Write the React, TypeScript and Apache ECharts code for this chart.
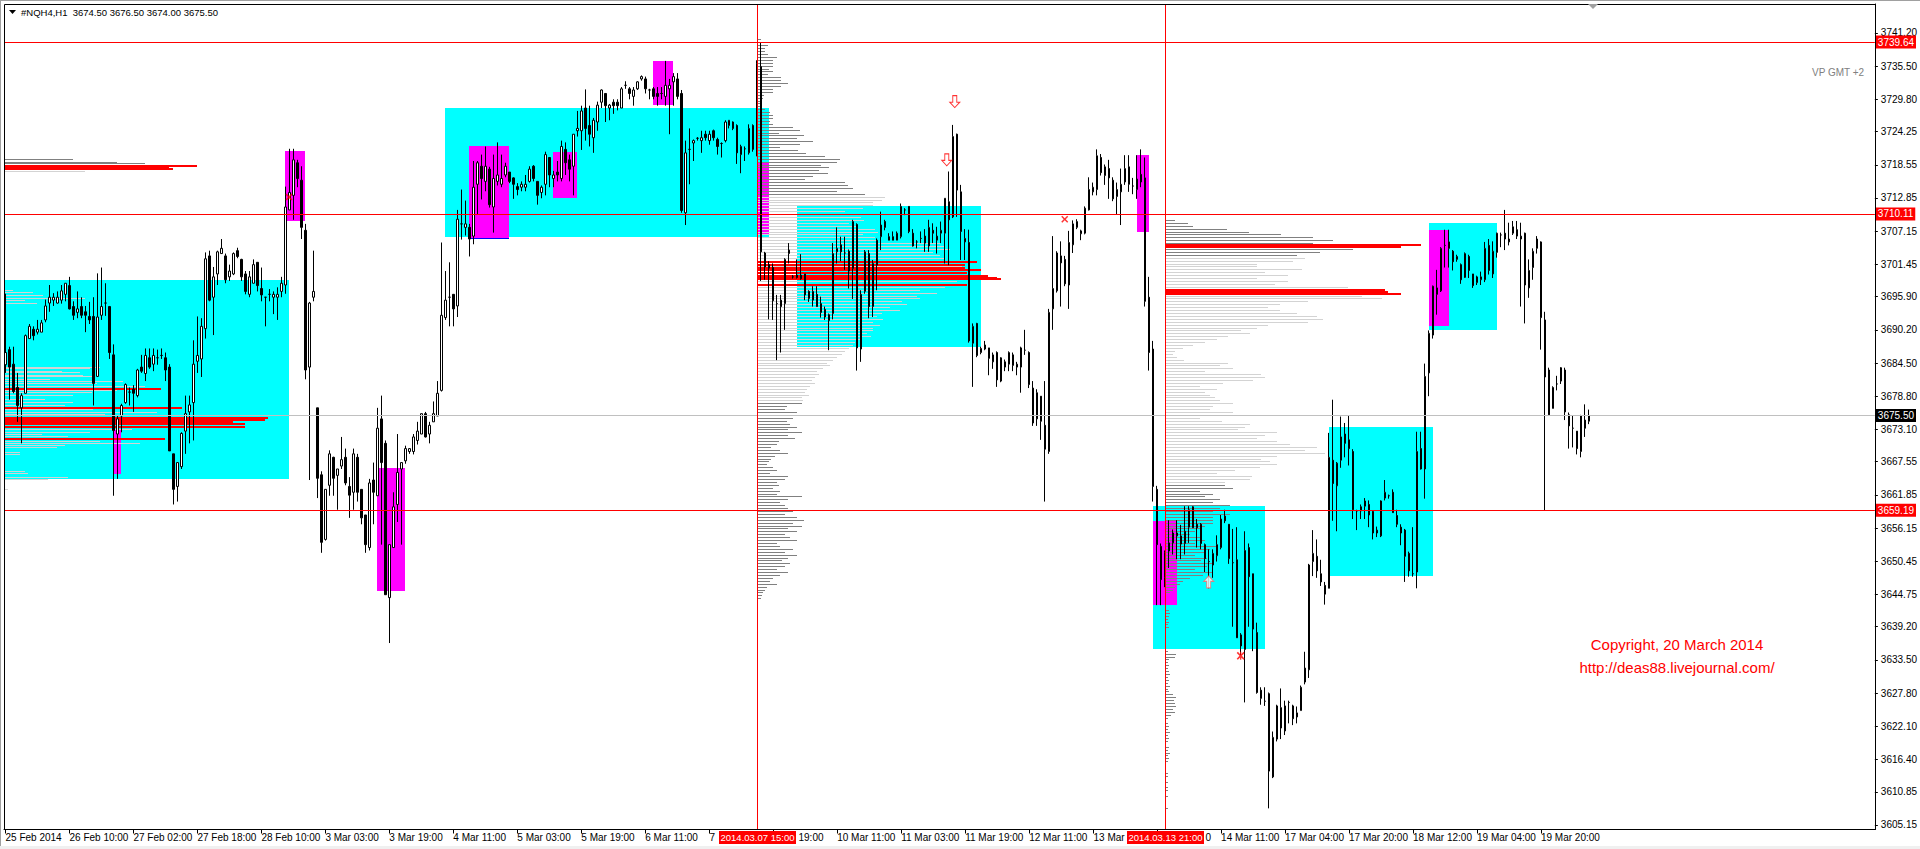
import React, { useEffect, useRef } from 'react';
import * as echarts from 'echarts';

// ---------- candles (H1 bars, index 0 = 25 Feb 18:00) ----------
const OPEN = [
3684.2,3686.8,3684.3,3680.3,3676.8,3679.3,3688.7,3690.3,3689.8,3689.8,
3691.9,3694.8,3695.3,3694.8,3695.3,3696.3,3697.8,3694.2,3693.2,3694.2,
3693.3,3692.5,3692.5,3682.2,3692.7,3694.8,3694.2,3685.9,3672.3,3675.4,
3677.7,3679.5,3680.0,3678.9,3683.8,3682.7,3685.4,3684.3,3685.4,3685.8,
3685.4,3683.8,3668.9,3663.3,3666.7,3672.8,3676.1,3677.7,3684.8,3685.2,
3690.4,3702.9,3695.8,3699.8,3703.3,3702.9,3699.3,3699.8,3703.8,3702.3,
3699.8,3696.3,3698.2,3701.8,3697.3,3695.8,3696.3,3695.8,3695.8,3696.8,
3697.9,3710.8,3713.3,3718.9,3715.9,3707.3,3683.8,3695.8,3676.8,3665.3,
3654.2,3663.5,3668.3,3665.2,3666.8,3668.3,3663.3,3662.3,3668.3,3662.8,
3658.4,3652.8,3664.4,3661.7,3674.9,3670.7,3644.2,3652.8,3660.2,3666.3,
3667.7,3669.3,3669.3,3671.2,3672.3,3675.8,3672.3,3674.4,3675.4,3679.8,
3692.3,3695.8,3696.3,3694.3,3708.4,3707.8,3707.8,3706.3,3715.2,3718.3,
3715.7,3717.8,3711.3,3715.7,3715.2,3716.8,3717.3,3716.3,3714.8,3714.7,
3714.7,3715.7,3718.3,3715.7,3713.8,3715.2,3719.8,3716.2,3717.3,3716.2,
3721.2,3719.4,3718.3,3724.4,3724.4,3728.3,3725.3,3723.2,3725.9,3729.3,
3730.8,3728.3,3729.3,3729.3,3728.3,3732.2,3731.6,3730.3,3731.6,3733.3,
3733.3,3731.4,3731.6,3730.8,3730.8,3730.3,3731.6,3732.8,3733.3,3730.8,
3710.3,3721.2,3722.3,3723.1,3722.7,3723.8,3722.7,3724.4,3722.9,3722.2,
3722.7,3725.3,3725.9,3725.3,3720.3,3721.3,3720.6,3725.3,3721.1,3735.4,
3703.4,3701.4,3700.9,3694.7,3695.3,3694.7,3703.3,3699.3,3699.6,3699.6,
3699.8,3696.8,3695.3,3696.3,3694.7,3693.7,3691.8,3693.0,3703.6,3704.8,
3703.4,3703.7,3700.7,3708.3,3686.9,3696.8,3703.3,3694.2,3701.3,3706.2,
3708.8,3706.2,3706.2,3705.6,3706.2,3710.8,3711.4,3706.8,3705.3,3705.9,
3706.3,3704.6,3707.3,3705.6,3706.8,3706.8,3712.2,3709.6,3723.8,3713.9,
3705.3,3705.2,3687.9,3691.3,3686.3,3687.6,3687.1,3684.7,3686.3,3681.4,
3684.7,3684.3,3685.9,3683.8,3683.8,3686.7,3686.3,3680.2,3674.9,3678.8,
3673.8,3669.3,3693.8,3696.9,3702.9,3702.3,3697.9,3704.8,3707.8,3706.7,
3706.8,3710.8,3713.9,3714.3,3719.8,3716.7,3717.9,3715.9,3713.1,3713.9,
3715.6,3718.2,3714.9,3714.3,3716.9,3716.3,3695.8,3686.9,3662.8,3653.0,
3647.7,3652.2,3653.6,3654.8,3654.8,3653.5,3656.3,3659.8,3656.8,3656.8,
3653.3,3650.4,3649.8,3651.4,3652.8,3658.2,3656.8,3650.2,3650.7,3637.8,
3635.3,3652.8,3648.3,3638.2,3628.3,3626.4,3627.7,3613.4,3619.9,3625.3,
3621.3,3626.2,3625.6,3623.7,3624.8,3629.7,3631.8,3650.4,3651.3,3648.3,
3646.3,3645.8,3667.8,3663.4,3667.8,3672.3,3671.3,3669.3,3659.1,3659.8,
3659.9,3660.2,3659.0,3655.3,3654.8,3661.3,3661.7,3662.3,3658.3,3656.3,
3655.8,3651.8,3648.3,3648.6,3669.8,3666.3,3682.8,3689.3,3697.4,3696.9,
3704.7,3705.3,3703.7,3702.3,3701.4,3699.2,3702.8,3699.8,3698.3,3698.8,
3698.8,3704.7,3699.8,3703.5,3706.5,3706.8,3705.3,3706.8,3707.4,3705.8,
3706.8,3697.4,3700.9,3704.2,3705.3,3691.9,3683.3,3676.7,3680.9,3681.4,
3683.3,3675.6,3673.3,3672.8,3669.3,3674.7,3674.5
];
const CLOSE = [
3686.3,3683.8,3679.6,3677.2,3678.9,3689.2,3690.8,3689.2,3690.3,3691.4,
3694.3,3695.8,3695.8,3695.8,3696.9,3698.2,3693.8,3692.7,3693.8,3692.7,
3692.7,3691.9,3681.0,3692.4,3694.2,3694.8,3686.3,3672.9,3674.9,3677.2,
3680.8,3679.5,3679.3,3683.3,3683.1,3685.8,3683.8,3685.8,3685.4,3685.8,
3683.3,3669.4,3662.8,3667.4,3672.4,3675.8,3677.3,3684.3,3685.8,3690.8,
3702.4,3695.3,3699.3,3703.6,3704.2,3698.8,3700.3,3703.3,3702.8,3699.3,
3696.8,3699.3,3701.4,3697.8,3696.2,3695.8,3696.3,3696.3,3696.3,3698.2,
3711.3,3713.8,3719.4,3716.2,3707.8,3683.3,3694.8,3696.8,3664.7,3653.7,
3662.8,3668.9,3664.7,3666.3,3667.9,3663.9,3661.8,3668.9,3662.3,3657.9,
3653.3,3663.9,3662.3,3673.3,3667.4,3644.7,3653.3,3659.8,3665.7,3667.4,
3669.8,3669.8,3671.8,3672.8,3675.8,3671.8,3673.8,3675.8,3679.3,3692.7,
3695.3,3695.8,3693.8,3709.2,3708.4,3708.4,3705.8,3714.7,3718.9,3716.2,
3718.3,3711.7,3716.2,3716.8,3716.2,3718.3,3715.7,3715.2,3714.3,3715.2,
3715.2,3717.8,3716.2,3713.3,3714.7,3720.3,3716.8,3716.8,3716.8,3721.7,
3718.9,3717.8,3723.8,3724.8,3727.8,3724.8,3723.8,3726.2,3728.8,3731.4,
3728.7,3728.8,3728.7,3728.7,3731.6,3732.2,3730.8,3731.4,3732.8,3733.7,
3731.6,3731.4,3730.3,3730.3,3730.8,3732.2,3732.2,3733.7,3730.3,3710.7,
3720.6,3721.2,3722.7,3723.1,3723.2,3723.2,3723.8,3723.2,3721.7,3722.2,
3725.9,3726.2,3724.8,3720.6,3721.7,3721.3,3724.8,3721.2,3736.0,3703.6,
3701.0,3700.8,3695.2,3694.7,3694.2,3702.3,3703.9,3699.3,3699.2,3699.0,
3696.2,3695.6,3696.8,3694.2,3693.2,3692.4,3692.8,3703.3,3704.2,3703.6,
3703.4,3700.3,3708.8,3687.1,3696.3,3703.6,3694.2,3701.6,3705.6,3708.2,
3707.8,3705.6,3705.6,3706.8,3711.4,3710.8,3707.1,3704.6,3705.3,3705.9,
3705.1,3707.8,3706.8,3706.3,3707.3,3712.8,3709.1,3723.4,3714.2,3707.1,
3705.9,3688.3,3690.8,3685.8,3687.0,3686.9,3685.3,3685.9,3681.6,3685.4,
3683.8,3686.3,3684.1,3684.3,3687.1,3686.7,3680.8,3674.2,3679.4,3674.5,
3669.7,3693.2,3697.3,3703.4,3701.7,3698.1,3705.2,3708.4,3708.8,3707.2,
3711.1,3714.3,3714.7,3720.1,3717.2,3718.2,3716.3,3712.7,3714.3,3715.2,
3717.9,3715.2,3714.9,3716.1,3715.6,3695.1,3686.3,3663.3,3653.3,3647.3,
3652.0,3653.6,3655.3,3655.3,3653.4,3655.6,3659.3,3656.2,3656.2,3653.5,
3650.9,3650.4,3651.8,3653.3,3657.7,3657.4,3650.9,3650.2,3637.3,3635.9,
3652.3,3647.8,3638.8,3627.9,3626.9,3626.4,3614.4,3620.2,3625.6,3621.8,
3625.6,3626.2,3623.4,3624.4,3628.8,3632.1,3649.8,3651.8,3648.8,3646.9,
3644.8,3668.3,3663.8,3667.3,3671.8,3670.7,3669.8,3659.3,3659.1,3659.1,
3660.8,3658.4,3655.3,3655.8,3660.8,3662.3,3661.7,3658.8,3656.8,3655.3,
3651.3,3648.8,3648.3,3669.3,3666.3,3682.2,3689.6,3697.7,3696.3,3704.2,
3704.7,3704.2,3701.9,3702.8,3698.8,3703.3,3700.4,3697.8,3699.3,3699.3,
3704.2,3700.4,3703.7,3706.8,3706.5,3705.8,3705.8,3707.9,3706.3,3706.3,
3697.9,3700.4,3703.7,3705.8,3692.3,3682.1,3675.6,3680.3,3680.9,3683.7,
3676.1,3673.7,3673.3,3669.8,3675.4,3673.3,3675.5
];
const LOW = [
3682.8,3678.2,3679.3,3674.4,3670.7,3679.3,3688.7,3688.4,3689.4,3689.8,
3691.5,3693.3,3694.3,3694.7,3694.7,3695.1,3693.7,3691.9,3692.2,3692.2,
3689.8,3691.2,3677.2,3682.1,3691.9,3692.6,3685.2,3661.7,3664.6,3672.6,
3677.5,3677.2,3676.1,3678.6,3682.8,3681.4,3683.5,3683.1,3684.2,3685.2,
3681.4,3669.4,3660.2,3660.7,3666.3,3668.9,3670.7,3671.2,3682.8,3682.1,
3688.7,3695.1,3689.3,3697.9,3703.3,3698.2,3698.6,3699.6,3702.5,3698.6,
3696.3,3695.8,3698.2,3696.8,3695.1,3690.8,3695.1,3692.9,3691.9,3695.8,
3696.4,3710.8,3709.1,3714.7,3705.8,3681.7,3664.4,3695.1,3661.3,3651.9,
3654.0,3661.7,3661.7,3659.3,3666.3,3663.5,3657.9,3659.3,3660.7,3656.8,
3651.9,3652.3,3656.8,3661.7,3653.3,3644.7,3636.4,3652.8,3657.2,3653.3,
3667.2,3668.9,3668.8,3670.5,3672.3,3671.7,3670.7,3674.4,3675.4,3679.6,
3691.9,3690.8,3690.8,3692.4,3705.7,3706.4,3702.8,3704.9,3710.1,3712.6,
3714.0,3711.2,3706.9,3715.0,3714.7,3716.4,3715.4,3712.7,3713.3,3714.0,
3714.0,3715.5,3715.7,3711.7,3712.8,3713.3,3714.7,3714.7,3715.7,3715.7,
3716.8,3715.7,3713.3,3723.4,3721.1,3722.7,3721.7,3720.6,3724.4,3728.3,
3725.9,3726.2,3727.3,3727.9,3728.3,3731.6,3729.8,3728.7,3731.4,3733.0,
3730.8,3729.8,3729.8,3728.7,3729.8,3728.7,3723.8,3728.7,3729.8,3710.3,
3708.2,3715.2,3719.2,3722.7,3720.6,3722.7,3722.0,3722.7,3720.3,3719.8,
3722.4,3724.8,3724.5,3718.7,3717.1,3719.2,3720.3,3720.8,3720.0,3698.6,
3698.8,3692.0,3691.9,3685.0,3686.3,3690.2,3701.6,3699.0,3699.0,3698.8,
3695.3,3695.0,3694.2,3694.2,3692.3,3691.9,3686.7,3692.0,3701.6,3702.0,
3700.5,3697.3,3695.5,3683.2,3684.7,3696.4,3692.2,3692.4,3697.0,3703.9,
3707.3,3705.6,3705.9,3705.9,3705.9,3709.9,3706.8,3704.5,3704.2,3705.1,
3703.6,3703.6,3705.1,3703.3,3705.1,3701.6,3701.3,3709.4,3709.6,3702.2,
3702.2,3688.0,3680.4,3685.5,3686.0,3686.7,3682.4,3683.5,3680.4,3681.2,
3683.1,3683.1,3683.1,3682.4,3679.4,3685.9,3680.2,3673.7,3673.7,3671.3,
3660.7,3668.9,3690.2,3696.6,3694.2,3697.7,3693.8,3703.4,3707.5,3705.6,
3706.6,3710.7,3713.3,3713.3,3716.7,3715.1,3712.7,3712.3,3710.1,3708.2,
3715.1,3713.9,3713.5,3712.7,3714.7,3694.2,3683.2,3660.7,3642.9,3642.9,
3646.0,3649.3,3651.6,3650.8,3650.8,3651.6,3653.6,3656.2,3652.8,3652.5,
3648.6,3645.8,3647.6,3650.4,3652.5,3657.0,3650.0,3639.2,3637.3,3634.3,
3626.2,3639.2,3635.0,3627.7,3625.8,3625.6,3608.0,3613.2,3619.5,3619.9,
3620.6,3622.6,3622.3,3622.6,3624.8,3629.3,3630.4,3647.9,3647.6,3646.2,
3643.0,3645.8,3657.4,3655.6,3666.5,3668.3,3666.9,3657.7,3655.8,3657.7,
3657.7,3656.3,3654.2,3654.6,3654.6,3660.9,3661.2,3658.8,3656.3,3653.2,
3646.9,3647.8,3647.8,3645.8,3666.2,3661.2,3678.8,3688.7,3692.8,3696.7,
3700.9,3700.9,3700.4,3701.9,3698.1,3699.1,3699.1,3697.4,3697.9,3697.9,
3698.4,3699.7,3699.1,3702.6,3704.4,3703.9,3704.7,3706.5,3705.8,3694.2,
3691.3,3695.7,3698.8,3703.3,3686.8,3659.2,3675.6,3676.7,3679.8,3680.9,
3674.7,3669.8,3670.0,3668.8,3668.3,3671.8,3674.0
];
const HIGH = [
3696.4,3687.3,3687.3,3682.8,3679.3,3689.4,3691.2,3690.8,3691.9,3691.9,
3695.4,3697.9,3696.5,3696.8,3697.9,3698.2,3699.3,3695.1,3696.8,3695.8,
3694.3,3695.0,3695.8,3699.9,3700.9,3698.2,3694.3,3687.7,3675.4,3677.5,
3681.0,3680.3,3680.7,3683.5,3685.9,3687.0,3687.0,3687.0,3686.8,3687.0,
3686.3,3684.3,3668.9,3667.4,3672.6,3678.9,3678.9,3688.4,3692.5,3692.2,
3703.5,3703.8,3701.0,3703.8,3705.8,3703.3,3701.4,3703.5,3704.3,3702.4,
3700.3,3700.3,3702.3,3701.8,3700.9,3695.8,3697.2,3696.8,3697.5,3699.3,
3714.8,3721.3,3721.3,3719.4,3718.3,3708.4,3695.0,3703.8,3676.8,3665.9,
3662.8,3669.5,3668.4,3666.3,3671.8,3669.8,3664.9,3669.8,3668.9,3662.8,
3658.4,3664.6,3667.4,3676.8,3678.9,3671.2,3653.3,3662.3,3672.3,3667.4,
3670.3,3669.9,3672.3,3674.4,3675.8,3676.1,3674.4,3677.9,3681.4,3705.2,
3700.3,3701.8,3696.3,3710.8,3714.3,3712.4,3708.4,3719.2,3719.2,3720.3,
3721.7,3718.2,3720.3,3722.4,3720.3,3718.9,3717.3,3716.4,3715.4,3715.7,
3716.8,3718.3,3718.5,3715.7,3715.0,3720.8,3719.8,3717.5,3719.2,3722.7,
3722.4,3720.3,3723.8,3727.8,3728.7,3731.5,3728.7,3726.6,3729.4,3731.5,
3730.8,3729.0,3729.8,3729.8,3731.9,3732.9,3731.9,3731.9,3732.9,3733.9,
3733.7,3731.6,3731.9,3731.9,3731.9,3736.4,3733.3,3734.3,3734.3,3731.4,
3722.7,3724.8,3722.9,3723.3,3724.4,3724.4,3724.4,3724.6,3723.2,3722.4,
3726.2,3726.2,3726.0,3725.5,3722.0,3721.7,3725.5,3725.5,3736.5,3739.6,
3703.6,3702.0,3701.6,3696.2,3696.2,3702.5,3705.1,3699.6,3702.3,3703.2,
3699.8,3697.0,3697.7,3697.7,3695.9,3694.2,3693.0,3705.1,3707.8,3706.2,
3706.2,3704.0,3709.1,3708.5,3697.0,3703.9,3703.9,3702.2,3705.9,3710.5,
3709.1,3706.8,3707.1,3707.1,3711.9,3711.1,3711.4,3707.5,3705.6,3707.1,
3707.5,3709.1,3708.5,3707.9,3708.8,3712.8,3717.4,3725.4,3723.9,3715.1,
3707.5,3707.4,3691.3,3691.4,3687.3,3688.3,3687.1,3686.3,3686.5,3685.5,
3685.1,3686.5,3686.3,3684.7,3687.3,3690.2,3686.5,3681.4,3680.0,3678.8,
3681.4,3693.8,3706.3,3703.7,3705.4,3702.9,3707.2,3709.0,3709.2,3707.4,
3711.4,3716.4,3715.5,3721.2,3720.4,3718.6,3719.4,3716.4,3715.5,3717.9,
3720.2,3720.2,3716.3,3720.2,3721.2,3719.8,3699.3,3688.3,3663.4,3653.5,
3652.3,3657.5,3655.9,3657.5,3656.7,3659.9,3659.9,3659.9,3657.7,3657.0,
3653.5,3652.5,3652.5,3654.9,3658.4,3659.3,3656.8,3656.0,3656.3,3638.1,
3655.6,3653.5,3648.3,3639.9,3628.8,3628.8,3627.9,3621.2,3625.8,3628.6,
3626.5,3626.5,3625.8,3625.5,3629.1,3634.9,3650.0,3655.8,3654.2,3650.7,
3646.9,3672.5,3678.2,3667.5,3675.3,3674.2,3675.4,3669.7,3659.3,3660.2,
3661.3,3660.9,3659.1,3656.4,3660.9,3664.4,3661.9,3662.8,3659.3,3656.8,
3656.0,3652.1,3656.3,3672.7,3672.7,3684.4,3690.1,3697.8,3700.5,3704.4,
3707.4,3707.4,3703.9,3703.1,3701.6,3703.5,3703.1,3699.8,3699.5,3700.2,
3705.3,3705.8,3705.4,3706.9,3706.9,3710.8,3708.6,3708.9,3708.9,3708.6,
3706.9,3702.3,3704.2,3706.3,3705.4,3693.3,3683.7,3680.5,3682.3,3683.8,
3683.7,3676.0,3675.4,3672.8,3675.6,3677.4,3676.5
];

// ---------- axes ----------
const TIME_TICKS = [0,16,32,48,64,80,96,112,128,144,160,176,192,208,224,240,256,272,288,304,320,336,352,368,384];
// '' = label hidden behind a session marker box; visible fragments are listed below
const TIME_LABELS = ['25 Feb 2014','26 Feb 10:00','27 Feb 02:00','27 Feb 18:00','28 Feb 10:00','3 Mar 03:00','3 Mar 19:00','4 Mar 11:00','5 Mar 03:00','5 Mar 19:00','6 Mar 11:00','','','10 Mar 11:00','11 Mar 03:00','11 Mar 19:00','12 Mar 11:00','','','14 Mar 11:00','17 Mar 04:00','17 Mar 20:00','18 Mar 12:00','19 Mar 04:00','19 Mar 20:00'];
// partly covered labels: [bar position where the visible part starts, visible text]
const TIME_FRAGMENTS = [[176, '7'], [198.3, '19:00'], [272, '13 Mar'], [300, '0']];
const PRICE_TICKS = [3741.20,3735.50,3729.80,3724.25,3718.55,3712.85,3707.15,3701.45,3695.90,3690.20,3684.50,3678.80,3673.10,3667.55,3661.85,3656.15,3650.45,3644.75,3639.20,3633.50,3627.80,3622.10,3616.40,3610.85,3605.15];

const SESSION_BARS = [188, 290];
const SESSION_LABELS = ['2014.03.07 15:00', '2014.03.13 21:00'];
const RED_LEVELS = [3739.64, 3710.11, 3659.19];
const LAST_PRICE = 3675.50;

// ---------- zones: [fromBar, toBar, topPrice, bottomPrice] ----------
const CYAN_ZONES = [
  [-0.375, 70.9, 3698.8, 3664.6],
  [109.9, 190.9, 3728.3, 3706.1],
  [197.9, 243.9, 3711.5, 3687.3],
  [286.9, 314.9, 3659.9, 3635.3],
  [330.9, 356.9, 3673.5, 3648.0],
  [355.9, 372.9, 3708.6, 3690.2],
];
const MAGENTA_ZONES = [
  [26.9, 28.9, 3673.0, 3665.5],
  [69.9, 74.9, 3721.0, 3708.9],
  [92.9, 99.9, 3666.4, 3645.4],
  [115.9, 125.9, 3721.7, 3705.9],
  [136.9, 142.9, 3720.8, 3712.9],
  [161.9, 166.9, 3736.3, 3728.8],
  [187.9, 190.9, 3718.9, 3706.6],
  [282.9, 285.9, 3720.2, 3707.0],
  [286.9, 292.9, 3657.3, 3642.9],
  [355.9, 360.9, 3707.4, 3690.9],
];
const BLUE_SEGMENTS = [[115.9, 125.9, 3705.9]];

// ---------- volume profiles ----------
// rows: [price, volume, kind]  kind 0 = outside value area, 1 = value area, 2 = high-volume node
const P1_ROWS = [[3719.4,69,0],[3718.9,113,0],[3718.7,141,0],[3718.5,133,0],[3717.4,81,1],[3718.3,193,2],[3718.0,165,2],[3717.8,169,2]];
const P2_ROWS = [
[3697.0,9,1],[3696.6,29,1],[3696.1,39,1],[3695.6,81,1],[3695.2,21,1],[3694.8,33,1],
[3683.8,96,1],[3683.5,86,1],[3683.1,58,1],[3682.8,76,1],[3682.4,79,1],[3682.1,88,1],[3681.7,46,1],[3681.4,119,1],
[3681.0,93,1],[3680.5,141,1],[3680.1,157,2],[3679.8,113,1],[3679.5,88,1],[3678.9,69,1],[3678.2,41,1],[3677.7,69,1],
[3677.2,61,1],[3676.8,178,2],[3676.5,89,1],[3676.0,153,1],[3675.6,101,1],[3675.4,113,1],[3675.1,264,2],[3674.7,261,2],
[3674.4,229,2],[3674.0,241,2],[3673.5,241,2],[3673.1,128,1],[3672.6,86,1],[3672.3,38,1],[3671.9,64,1],[3671.6,106,1],
[3671.4,161,2],[3671.0,96,1],[3670.7,136,1],[3670.4,61,1],[3670.0,53,1],[3669.1,16,1],[3668.8,16,1],[3665.9,21,1],
[3665.6,24,1],[3664.8,64,1],[3664.5,44,1],[3662.8,4,1]
];
const P3_START = 187.9;
const P3_TOP = 3740.0;
const P3_VA = [3713.0, 3678.0];
const P3_VOL = [
4,12,11,8,8,11,20,16,16,16, 12,16,11,24,24,31,24,16,16,7, 6,4,4,5,8,13,16,16,13,16,
36,43,22,47,40,56,43,23,41,49, 68,83,80,64,72,62,71,56,48,88, 91,96,80,108,
128,125,116,116,106,88,103,104,107,92,100,118,121,106,118,120,
183,188,193,176,183,188,191,200,205,208,206,204,210,200,196,
188,163,180,160,163,145,150,133,143,125,120,126,116,123,116,116,
110,114,105,98,96,92,88,85,80,76,70,73,66,60,62,58,
55,58,53,50,48,52,45,46,
45,30,28,40,22,36,30,33,40,31, 45,31,38,22,20,14,23,31,18,14, 12,10,16,20,13,31,28,20,22,16,
23,20,45,31,23,28,31,36,28,40, 47,36,45,31,40,28,33,40,
20,23,36,28,40,31,25,33,28,20, 31,23,16,13,20,10,8,6,5,4
];
const P3_RED = [[3701.8,220],[3701.3,208],[3700.9,208],[3700.4,224],[3699.9,210],[3699.5,231],[3699.1,240],[3698.9,244],[3697.9,210]];
const P4_START = 289.9;
const P4_TOP = 3709.0;
const P4_VA = [3702.5, 3664.0];
const P4_VOL = [
10,23,28,62,84,116,148,168,148,150,188,155,132,
140,128,92,92,137,100,123,92,123,110, 183,133,180,197,217,143,115,103,115,132,
152,158,143,103,92,76,85,63,52,40, 28,18,10,8,12,19,63,55,68,40, 96,100,88,58,35,
52,40,45,50,55,68,48,45,68,40, 35,57,85,80,73,112,100,92,112,125, 152,140,160,112,96,105,112,95,70,52, 87,85,60,
60,68,35,48,40,55,48,65,55,48, 65,48,48,48,40,35,30,25,35,40, 30,52,45,40,30,42,36,48,42,30, 48,38,25,18,15,10,8,5,
0,0,0,0,0,4,5,4,3,4, 3,4,0,0,0,0,0,0,0,3, 11,10,4,3,4,3,4,5,3,4, 3,5,3,4,8,11,9,10,11,8,
10,6,3,0,3,4,3,5,3,4, 3,0,4,3,5,3,4,3,0,0, 0,3,3,0,3,0,3,3,0,3, 0,0,0,3,0,0,0,0
];
const P4_RED = [[3704.7,256],[3704.4,236],[3697.0,220],[3696.7,223],[3696.3,236]];

// ---------- markers ----------
const CROSS_MARKS = [[70.9, 3713.0], [264.9, 3709.2]];
const STAR_MARKS = [[308.9, 3634.2]];
const DOWN_ARROWS = [[237.4, 3729.4], [235.4, 3719.4]];
const UP_ARROWS = [[300.9, 3646.9]];

// ---------- layout constants ----------
const XMIN = -0.375;
const XMAX = 467.5;
const YMIN = 3604.37;
const YMAX = 3746.17;
const VOL_TO_BARS = 0.25;
const SANS = "'Liberation Sans', Arial, sans-serif";
const AXIS_FONT = 10;

const PROFILE_COLORS = ['#808080', '#D3D3D3', '#FF0000'];
const ZONE_COLORS = ['#00FFFF', '#FF00FF', '#0000FF'];

function profileRows(start: number, top: number, vols: number[], va: number[]) {
  const out: number[][] = [];
  vols.forEach((v, k) => {
    const price = top - k * 0.5;
    if (v > 0) out.push([start, price, v, price <= va[0] && price >= va[1] ? 1 : 0]);
  });
  return out;
}

function buildOption() {
  const candles = OPEN.map((o, i) => {
    const c = CLOSE[i];
    return [i, o, c, Math.min(LOW[i], o, c), Math.max(HIGH[i], o, c)];
  });

  const zones: number[][] = [];
  CYAN_ZONES.forEach(z => zones.push([z[0], z[1], z[2], z[3], 0]));
  MAGENTA_ZONES.forEach(z => zones.push([z[0], z[1], z[2], z[3], 1]));
  BLUE_SEGMENTS.forEach(z => zones.push([z[0], z[1], z[2], z[2], 2]));

  const gray: number[][] = [];
  const red: number[][] = [];
  const addRow = (start: number, r: number[]) => (r[2] === 2 ? red : gray).push([start, r[0], r[1], r[2]]);
  P1_ROWS.forEach(r => addRow(XMIN, r));
  P2_ROWS.forEach(r => addRow(XMIN, r));
  profileRows(P3_START, P3_TOP, P3_VOL, P3_VA).forEach(r => gray.push(r));
  profileRows(P4_START, P4_TOP, P4_VOL, P4_VA).forEach(r => gray.push(r));
  P3_RED.forEach(r => red.push([P3_START, r[0], r[1], 2]));
  P4_RED.forEach(r => red.push([P4_START, r[0], r[1], 2]));
  const profile = gray.concat(red);

  const priceLabel = (text: string, bg: string) => ({
    show: true, position: 'end', distance: 1, formatter: text, color: '#fff', backgroundColor: bg,
    padding: [2, 2, 1, 2], fontSize: AXIS_FONT, fontFamily: SANS,
  });

  const arrowDown = 'path://M3,0 L7,0 L7,6 L10,6 L5,11 L0,6 L3,6 Z';
  const arrowUp = 'path://M5,0 L10,5 L7,5 L7,11 L3,11 L3,5 L0,5 Z';
  const cross = 'path://M0,1.5 L1.5,0 L5,3.5 L8.5,0 L10,1.5 L6.5,5 L10,8.5 L8.5,10 L5,6.5 L1.5,10 L0,8.5 L3.5,5 Z';
  const star = 'path://M4.2,0 L5.8,0 L5.8,10 L4.2,10 Z M0,1.5 L1.5,0 L5,3.5 L8.5,0 L10,1.5 L6.5,5 L10,8.5 L8.5,10 L5,6.5 L1.5,10 L0,8.5 L3.5,5 Z';

  const marks: any[] = [];
  CROSS_MARKS.forEach(m => marks.push({ value: m, symbol: cross, symbolSize: [7, 7], itemStyle: { color: '#FF0000' } }));
  STAR_MARKS.forEach(m => marks.push({ value: m, symbol: star, symbolSize: [8, 8], itemStyle: { color: '#FF0000' } }));
  DOWN_ARROWS.forEach(m => marks.push({ value: m, symbol: arrowDown, symbolSize: [10, 12], itemStyle: { color: '#FFFFFF', borderColor: '#FF0000', borderWidth: 1 } }));
  UP_ARROWS.forEach(m => marks.push({ value: m, symbol: arrowUp, symbolSize: [10, 12], itemStyle: { color: '#FFFFFF', borderColor: '#FF6666', borderWidth: 1 } }));

  return {
    animation: false,
    backgroundColor: '#FFFFFF',
    grid: { left: 4, top: 4, width: 1871.5, height: 825.5, show: false, containLabel: false },
    xAxis: {
      type: 'value', min: XMIN, max: XMAX, position: 'bottom',
      axisLine: { show: true, onZero: false, lineStyle: { color: '#000', width: 1 } },
      splitLine: { show: false },
      axisTick: { show: true, customValues: TIME_TICKS, length: 4, lineStyle: { color: '#000' } },
      axisLabel: {
        show: true, customValues: TIME_TICKS, align: 'left', margin: 3, color: '#000', fontSize: AXIS_FONT, fontFamily: SANS,
        formatter: (v: number) => { const k = TIME_TICKS.indexOf(Math.round(v)); return k >= 0 ? TIME_LABELS[k] : ''; },
      },
    },
    yAxis: {
      type: 'value', min: YMIN, max: YMAX, position: 'right', scale: true,
      axisLine: { show: true, onZero: false, lineStyle: { color: '#000', width: 1 } },
      splitLine: { show: false },
      axisTick: { show: true, customValues: PRICE_TICKS, length: 3, lineStyle: { color: '#000' } },
      axisLabel: {
        show: true, customValues: PRICE_TICKS, margin: 6, color: '#000', fontSize: AXIS_FONT, fontFamily: SANS,
        formatter: (v: number) => v.toFixed(2),
      },
    },
    series: [
      {
        type: 'custom', name: 'zones', silent: true, data: zones, encode: { x: [0, 1], y: [2, 3] },
        renderItem: (params: any, api: any) => {
          const k = api.value(4);
          const a = api.coord([api.value(0), api.value(2)]);
          const b = api.coord([api.value(1), api.value(3)]);
          const x = Math.round(a[0]);
          const y = Math.round(a[1]);
          const w = Math.round(b[0]) - x;
          const h = k === 2 ? 1 : Math.round(b[1]) - y;
          return { type: 'rect', shape: { x, y, width: w, height: h }, style: { fill: ZONE_COLORS[k] } };
        },
      },
      {
        type: 'custom', name: 'profile', silent: true, data: profile, encode: { x: 0, y: 1 },
        renderItem: (params: any, api: any) => {
          const kind = api.value(3);
          const a = api.coord([api.value(0), api.value(1)]);
          const b = api.coord([api.value(0) + api.value(2) * VOL_TO_BARS, api.value(1)]);
          const h = kind === 2 ? 2 : 1;
          return {
            type: 'rect',
            shape: { x: Math.round(a[0]), y: Math.round(a[1] - h / 2), width: Math.max(1, Math.round(b[0] - a[0])), height: h },
            style: { fill: PROFILE_COLORS[kind] },
          };
        },
        markLine: {
          silent: true, symbol: ['none', 'none'], animation: false,
          data: [
            { yAxis: RED_LEVELS[0], lineStyle: { color: '#FF0000', width: 1, type: 'solid' }, label: priceLabel(RED_LEVELS[0].toFixed(2), '#FF0000') },
            { yAxis: RED_LEVELS[1], lineStyle: { color: '#FF0000', width: 1, type: 'solid' }, label: priceLabel(RED_LEVELS[1].toFixed(2), '#FF0000') },
            { yAxis: RED_LEVELS[2], lineStyle: { color: '#FF0000', width: 1, type: 'solid' }, label: priceLabel(RED_LEVELS[2].toFixed(2), '#FF0000') },
            { yAxis: LAST_PRICE, lineStyle: { color: '#C0C0C0', width: 1, type: 'solid' }, label: priceLabel(LAST_PRICE.toFixed(2), '#000000') },
          ],
        },
      },
      {
        type: 'candlestick', name: '#NQH4,H1', silent: true, data: candles, barWidth: 2,
        itemStyle: { color: '#FFFFFF', color0: '#000000', borderColor: '#000000', borderColor0: '#000000', borderWidth: 1 },
      },
      {
        type: 'scatter', name: 'marks', silent: true, data: marks,
        markLine: {
          silent: true, symbol: ['none', 'none'], animation: false,
          label: { show: false },
          data: SESSION_BARS.map(b => ({ xAxis: b, lineStyle: { color: '#FF0000', width: 1, type: 'solid' } })),
        },
      },
    ],
  };
}

function buildGraphics(xs: number[], frags: number[]) {
  const g: any[] = [
    { type: 'rect', z: 50, shape: { x: 0, y: 0, width: 1920, height: 1 }, style: { fill: '#A0A0A0' } },
    { type: 'rect', z: 50, shape: { x: 0, y: 0, width: 1, height: 849 }, style: { fill: '#A0A0A0' } },
    { type: 'rect', z: 50, shape: { x: 0, y: 846, width: 1920, height: 3 }, style: { fill: '#F0F0F0' } },
    { type: 'rect', z: 50, shape: { x: 4.5, y: 4.5, width: 1871, height: 825 }, style: { fill: 'none', stroke: '#000', lineWidth: 1 } },
    { type: 'polygon', z: 50, shape: { points: [[9, 10], [16, 10], [12.5, 14]] }, style: { fill: '#000' } },
    { type: 'text', z: 50, x: 21, y: 12, style: { text: '#NQH4,H1  3674.50 3676.50 3674.00 3675.50', fill: '#000', fontSize: 9.5, fontFamily: SANS, align: 'left', verticalAlign: 'middle' } },
    { type: 'text', z: 50, x: 1812, y: 72, style: { text: 'VP GMT +2', fill: '#808080', fontSize: 10, fontFamily: SANS, align: 'left', verticalAlign: 'middle' } },
    { type: 'text', z: 50, x: 1677, y: 644, style: { text: 'Copyright, 20 March 2014', fill: '#FF0000', fontSize: 15, fontFamily: SANS, align: 'center', verticalAlign: 'middle' } },
    { type: 'text', z: 50, x: 1677, y: 667, style: { text: 'http://deas88.livejournal.com/', fill: '#FF0000', fontSize: 15, fontFamily: SANS, align: 'center', verticalAlign: 'middle' } },
    { type: 'polygon', z: 50, shape: { points: [[1588, 4], [1598, 4], [1593, 9]] }, style: { fill: '#A0A0A0' } },
  ];
  TIME_FRAGMENTS.forEach((f, k) => {
    g.push({ type: 'text', z: 50, x: Math.round(frags[k]) + 0.5, y: 837.5, style: { text: f[1], fill: '#000', fontSize: AXIS_FONT, fontFamily: SANS, align: 'left', verticalAlign: 'middle' } });
  });
  xs.forEach((x, k) => {
    g.push({ type: 'rect', z: 100, shape: { x: Math.round(x) - 38, y: 831, width: 77, height: 13 }, style: { fill: '#FF0000' } });
    g.push({ type: 'text', z: 101, x: Math.round(x) + 0.5, y: 837.5, style: { text: SESSION_LABELS[k], fill: '#FFFFFF', fontSize: 9.5, fontFamily: SANS, align: 'center', verticalAlign: 'middle' } });
  });
  return g;
}

export default function App() {
  const ref = useRef<HTMLDivElement>(null);
  useEffect(() => {
    document.body.style.margin = '0';
    const chart = echarts.init(ref.current as HTMLDivElement, null, { renderer: 'svg' });
    chart.setOption(buildOption() as any);
    const xs = SESSION_BARS.map(b => chart.convertToPixel({ xAxisIndex: 0 }, b) as number);
    const frags = TIME_FRAGMENTS.map(f => chart.convertToPixel({ xAxisIndex: 0 }, f[0] as number) as number);
    chart.setOption({ graphic: buildGraphics(xs, frags) } as any);
    return () => chart.dispose();
  }, []);
  return <div ref={ref} style={{ position: 'absolute', left: 0, top: 0, width: 1920, height: 849, background: '#fff' }} />;
}
